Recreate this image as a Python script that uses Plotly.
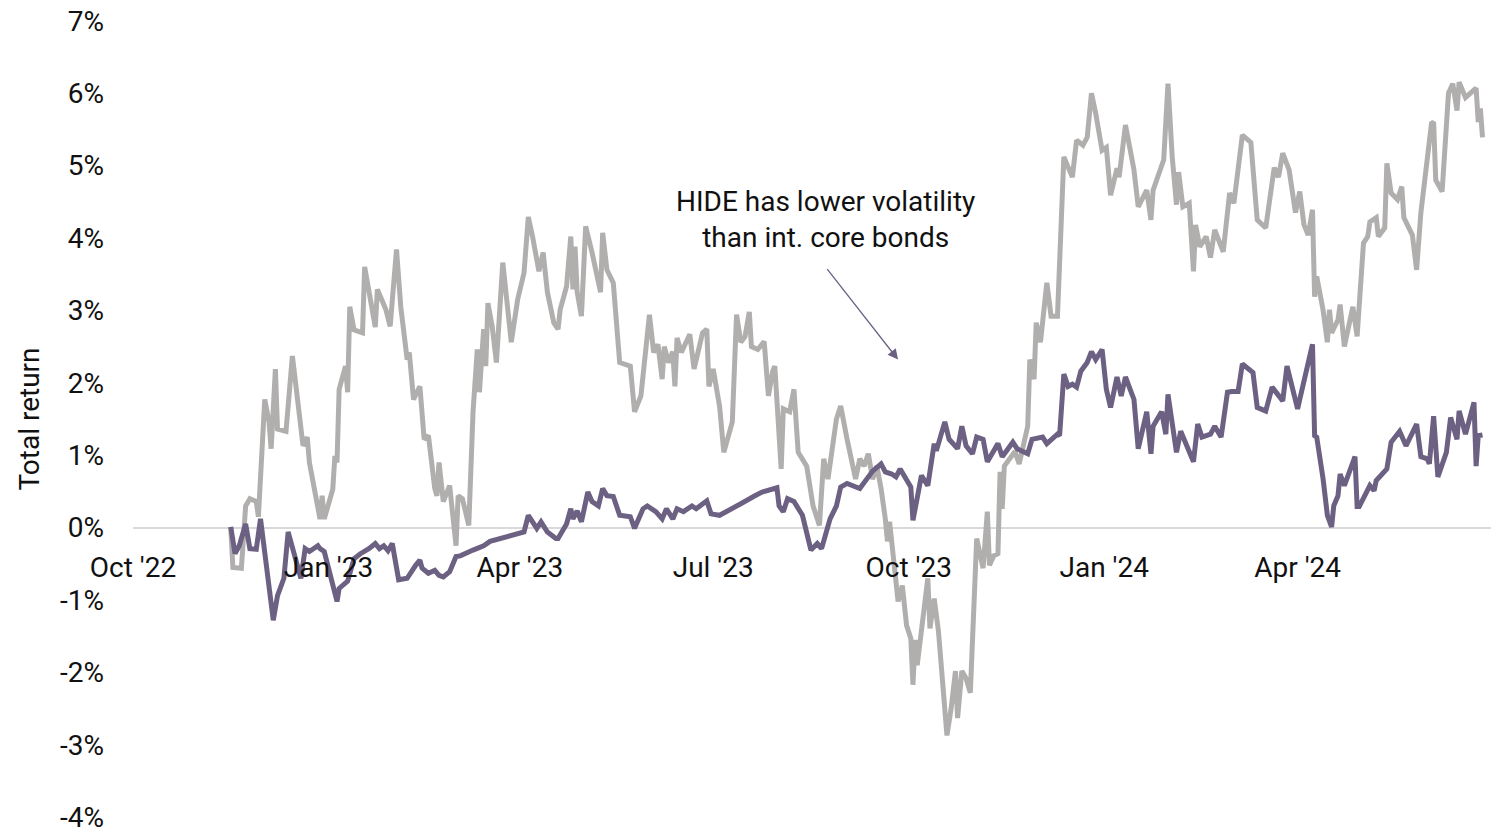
import pandas as pd
import plotly.graph_objects as go

# Trading-day offsets (days after 2022-10-01) and cumulative total return, in percent
core_days = [46, 47, 51, 53, 55, 58, 59, 62, 64, 65, 67, 68, 72, 75, 80, 82, 83, 88, 89, 90,
             94, 95, 96, 97, 100, 101, 102, 104, 108, 109, 114, 115, 119, 121, 124, 126, 129, 130, 132, 135,
             137, 139, 142, 143, 144, 146, 149, 152, 153, 155, 158, 160, 162, 163, 165, 166, 167, 169, 171, 174,
             178, 181, 184, 186, 188, 191, 193, 195, 198, 200, 201, 204, 206, 207, 208, 209, 211, 213, 216, 218,
             220, 221, 223, 226, 229, 234, 236, 239, 243, 245, 247, 249, 250, 252, 254, 255, 256, 258, 262, 264,
             268, 270, 271, 273, 276, 278, 282, 284, 286, 288, 290, 291, 294, 297, 299, 301, 302, 305, 306, 309,
             311, 313, 317, 320, 323, 325, 327, 331, 333, 336, 340, 342, 344, 346, 348, 350, 352, 354, 355, 356,
             357, 359, 360, 362, 364, 366, 367, 368, 369, 374, 375, 377, 379, 383, 385, 387, 388, 390, 392, 394,
             397, 400, 402, 403, 405, 407, 408, 409, 410, 413, 415, 417, 421, 422, 424, 425, 427, 430, 432, 435,
             438, 442, 444, 447, 449, 451, 453, 456, 458, 460, 463, 464, 467, 471, 473, 477, 479, 480, 485, 487,
             489, 491, 492, 494, 497, 499, 500, 502, 505, 507, 509, 513, 516, 518, 522, 526, 527, 529, 533, 535,
             537, 539, 541, 544, 547, 549, 551, 553, 555, 556, 557, 560, 562, 563, 564, 567, 568, 570, 574, 576,
             579, 581, 582, 585, 586, 589, 590, 592, 595, 597, 598, 602, 604, 606, 608, 611, 612, 613, 616, 619,
             621, 623, 624, 627, 632, 633, 634, 635]
core_ret = [0.00, -0.55, -0.56, 0.30, 0.40, 0.36, 0.15, 1.77, 1.46, 1.09, 2.19, 1.36, 1.33, 2.37, 1.13, 1.25, 0.90, 0.12, 0.44, 0.12,
            0.53, 0.99, 0.90, 1.91, 2.23, 1.87, 3.05, 2.73, 2.69, 3.60, 2.77, 3.29, 3.01, 2.78, 3.84, 3.05, 2.32, 2.42, 1.77, 1.95,
            1.22, 1.27, 0.54, 0.44, 0.90, 0.36, 0.58, -0.25, 0.44, 0.40, 0.03, 1.60, 2.46, 1.87, 2.74, 2.23, 3.10, 2.78, 2.28, 3.66,
            2.56, 3.15, 3.52, 4.29, 4.02, 3.54, 3.80, 3.25, 2.83, 2.74, 3.01, 3.33, 4.02, 3.29, 3.88, 3.25, 2.92, 4.16, 3.80, 3.50,
            3.25, 4.07, 3.56, 3.38, 2.28, 2.23, 1.60, 1.82, 2.94, 2.42, 2.53, 2.05, 2.50, 2.28, 2.43, 1.95, 2.62, 2.42, 2.67, 2.19,
            2.69, 2.74, 1.95, 2.19, 1.68, 1.04, 1.46, 2.94, 2.56, 2.64, 2.98, 2.50, 2.46, 2.57, 1.82, 2.16, 2.23, 0.81, 1.64, 1.60,
            1.91, 1.04, 0.85, 0.30, 0.03, 0.95, 0.67, 1.50, 1.68, 1.22, 0.67, 0.95, 0.85, 1.02, 0.67, 0.85, 0.54, 0.12, -0.19, 0.08,
            -0.25, -0.74, -1.02, -0.80, -1.35, -1.53, -2.17, -1.55, -1.90, -0.70, -1.39, -0.98, -1.43, -2.87, -2.49, -1.98, -2.63, -1.98, -2.08, -2.28,
            -0.15, -0.56, 0.22, -0.52, -0.39, -0.36, 0.77, 0.26, 0.85, 0.97, 1.05, 0.88, 1.40, 2.32, 2.05, 2.83, 2.56, 3.38, 2.92, 2.92,
            5.12, 4.84, 5.35, 5.28, 5.39, 6.00, 5.72, 5.21, 5.25, 4.59, 4.96, 4.84, 5.56, 4.94, 4.43, 4.66, 4.25, 4.66, 5.08, 6.13,
            5.12, 4.46, 4.91, 4.43, 4.48, 3.54, 4.18, 3.88, 4.02, 3.73, 4.11, 3.81, 4.62, 4.48, 5.42, 5.32, 4.94, 4.25, 4.14, 4.62,
            4.97, 4.84, 5.17, 4.94, 4.35, 4.64, 4.18, 4.04, 4.39, 3.19, 3.47, 3.00, 2.56, 3.01, 2.69, 2.87, 3.08, 2.50, 3.05, 2.64,
            3.93, 4.02, 4.22, 4.28, 4.02, 4.14, 5.03, 4.62, 4.53, 4.71, 4.28, 4.04, 3.56, 4.35, 4.80, 5.58, 5.60, 4.80, 4.64, 6.00,
            6.13, 5.76, 6.15, 5.94, 6.07, 5.60, 5.79, 5.39]

hide_days = [46, 48, 50, 53, 55, 58, 60, 61, 66, 68, 71, 73, 75, 79, 81, 83, 87, 88, 90, 96,
             97, 101, 104, 107, 111, 114, 116, 118, 120, 122, 125, 129, 133, 135, 136, 139, 142, 144, 146, 149,
             152, 154, 160, 165, 168, 173, 177, 184, 186, 190, 192, 195, 199, 200, 204, 206, 207, 209, 211, 214,
             216, 219, 221, 223, 226, 229, 234, 236, 240, 242, 246, 249, 251, 254, 256, 259, 263, 265, 270, 272,
             276, 281, 286, 292, 296, 303, 304, 306, 308, 311, 315, 319, 322, 324, 326, 328, 331, 333, 336, 340,
             342, 348, 352, 354, 357, 359, 361, 366, 367, 371, 374, 377, 378, 382, 384, 388, 390, 392, 395, 397,
             400, 402, 407, 409, 414, 416, 421, 423, 428, 430, 435, 436, 438, 440, 442, 444, 446, 449, 451, 453,
             456, 458, 460, 463, 465, 467, 471, 473, 477, 479, 480, 484, 486, 487, 491, 493, 499, 501, 503, 507,
             509, 512, 515, 517, 520, 522, 527, 529, 533, 536, 541, 543, 548, 549, 555, 556, 557, 560, 562, 564,
             565, 567, 568, 570, 575, 576, 577, 582, 584, 585, 588, 590, 592, 596, 599, 604, 606, 609, 610, 612,
             614, 618, 620, 623, 624, 627, 631, 632, 633, 635]
hide_ret = [0.01, -0.36, -0.25, 0.05, -0.29, -0.30, 0.12, -0.11, -1.28, -0.94, -0.70, -0.06, -0.29, -0.70, -0.29, -0.33, -0.25, -0.29, -0.33, -1.02,
            -0.84, -0.74, -0.43, -0.36, -0.29, -0.22, -0.29, -0.25, -0.32, -0.22, -0.72, -0.70, -0.52, -0.45, -0.56, -0.63, -0.59, -0.66, -0.68, -0.61,
            -0.40, -0.39, -0.31, -0.25, -0.19, -0.15, -0.11, -0.06, 0.17, -0.01, 0.08, -0.06, -0.15, -0.15, 0.05, 0.26, 0.12, 0.23, 0.08, 0.49,
            0.36, 0.30, 0.54, 0.44, 0.43, 0.17, 0.15, -0.01, 0.26, 0.30, 0.22, 0.12, 0.26, 0.12, 0.26, 0.22, 0.30, 0.26, 0.37, 0.19,
            0.17, 0.26, 0.33, 0.43, 0.49, 0.55, 0.30, 0.22, 0.40, 0.36, 0.17, -0.31, -0.22, -0.29, -0.06, 0.12, 0.30, 0.56, 0.61, 0.56,
            0.54, 0.78, 0.88, 0.77, 0.74, 0.70, 0.81, 0.56, 0.10, 0.72, 0.58, 1.16, 1.06, 1.46, 1.22, 1.09, 1.40, 1.13, 1.02, 1.25,
            1.22, 0.91, 1.16, 0.98, 1.18, 1.09, 1.02, 1.22, 1.25, 1.16, 1.29, 1.27, 2.12, 1.95, 1.98, 1.94, 2.16, 2.28, 2.43, 2.32,
            2.46, 1.91, 1.66, 2.08, 1.82, 2.08, 1.77, 1.09, 1.60, 1.02, 1.40, 1.60, 1.29, 1.84, 1.04, 1.33, 0.91, 1.43, 1.25, 1.29,
            1.40, 1.25, 1.87, 1.88, 1.88, 2.26, 2.14, 1.66, 1.61, 1.94, 1.75, 2.23, 1.64, 1.77, 2.53, 1.27, 1.25, 0.67, 0.17, 0.01,
            0.30, 0.44, 0.74, 0.58, 0.98, 0.29, 0.29, 0.58, 0.51, 0.65, 0.74, 0.81, 1.18, 1.33, 1.13, 1.43, 0.98, 0.95, 0.88, 1.54,
            0.70, 1.04, 1.52, 1.22, 1.61, 1.29, 1.73, 0.85, 1.27, 1.28]

tick_dates = ["2022-10-01", "2023-01-01", "2023-04-01", "2023-07-01",
              "2023-10-01", "2024-01-01", "2024-04-01"]
tick_labels = ["Oct '22", "Jan '23", "Apr '23", "Jul '23", "Oct '23", "Jan '24", "Apr '24"]
y_ticks = list(range(-4, 8))
y_labels = [f"{v}%" for v in y_ticks]

start = pd.Timestamp("2022-10-01")
core_dates = start + pd.to_timedelta(core_days, unit="D")
hide_dates = start + pd.to_timedelta(hide_days, unit="D")

FONT = "Roboto"
FSIZE = 28
INK = "#111111"
GRAY = "#b1aeae"
PURPLE = "#6c6182"

fig = go.Figure()
fig.add_trace(go.Scatter(x=core_dates, y=core_ret, mode="lines", name="Int. core bonds",
                         line=dict(color=GRAY, width=5)))
fig.add_trace(go.Scatter(x=hide_dates, y=hide_ret, mode="lines", name="HIDE",
                         line=dict(color=PURPLE, width=5)))

# callout text and arrow
fig.add_annotation(x=start + pd.Timedelta(days=326), y=4.25,
                   text="HIDE has lower volatility<br>than int. core bonds",
                   showarrow=False, align="center",
                   font=dict(family=FONT, size=FSIZE, color=INK))
fig.add_annotation(x=start + pd.Timedelta(days=360), y=2.32, ax=-72, ay=-92,
                   text="", showarrow=True, arrowhead=2, arrowsize=1.6,
                   arrowwidth=1.3, arrowcolor=PURPLE)

fig.update_layout(
    width=1491, height=834,
    margin=dict(l=133, r=0, t=20, b=14),
    plot_bgcolor="white", paper_bgcolor="white",
    showlegend=False,
    font=dict(family=FONT, size=FSIZE, color=INK),
    xaxis=dict(
        type="date",
        range=["2022-10-01", "2024-07-01"],
        tickvals=tick_dates, ticktext=tick_labels,
        showgrid=False, zeroline=False, showline=False, ticks="",
        anchor="free", position=4.01 / 11.02,
        ticklabelstandoff=20,
        tickfont=dict(family=FONT, size=FSIZE, color=INK),
    ),
    yaxis=dict(
        range=[-4.01, 7.01],
        tickvals=y_ticks, ticktext=y_labels,
        showgrid=False, zeroline=True, zerolinecolor="#d9d9d9", zerolinewidth=1.5,
        showline=False, ticks="",
        ticklabelstandoff=28, ticklabeloverflow="allow",
        tickfont=dict(family=FONT, size=FSIZE, color=INK),
        title=dict(text="Total return", standoff=12,
                   font=dict(family=FONT, size=FSIZE, color=INK)),
    ),
)

fig.write_html("out.html")
